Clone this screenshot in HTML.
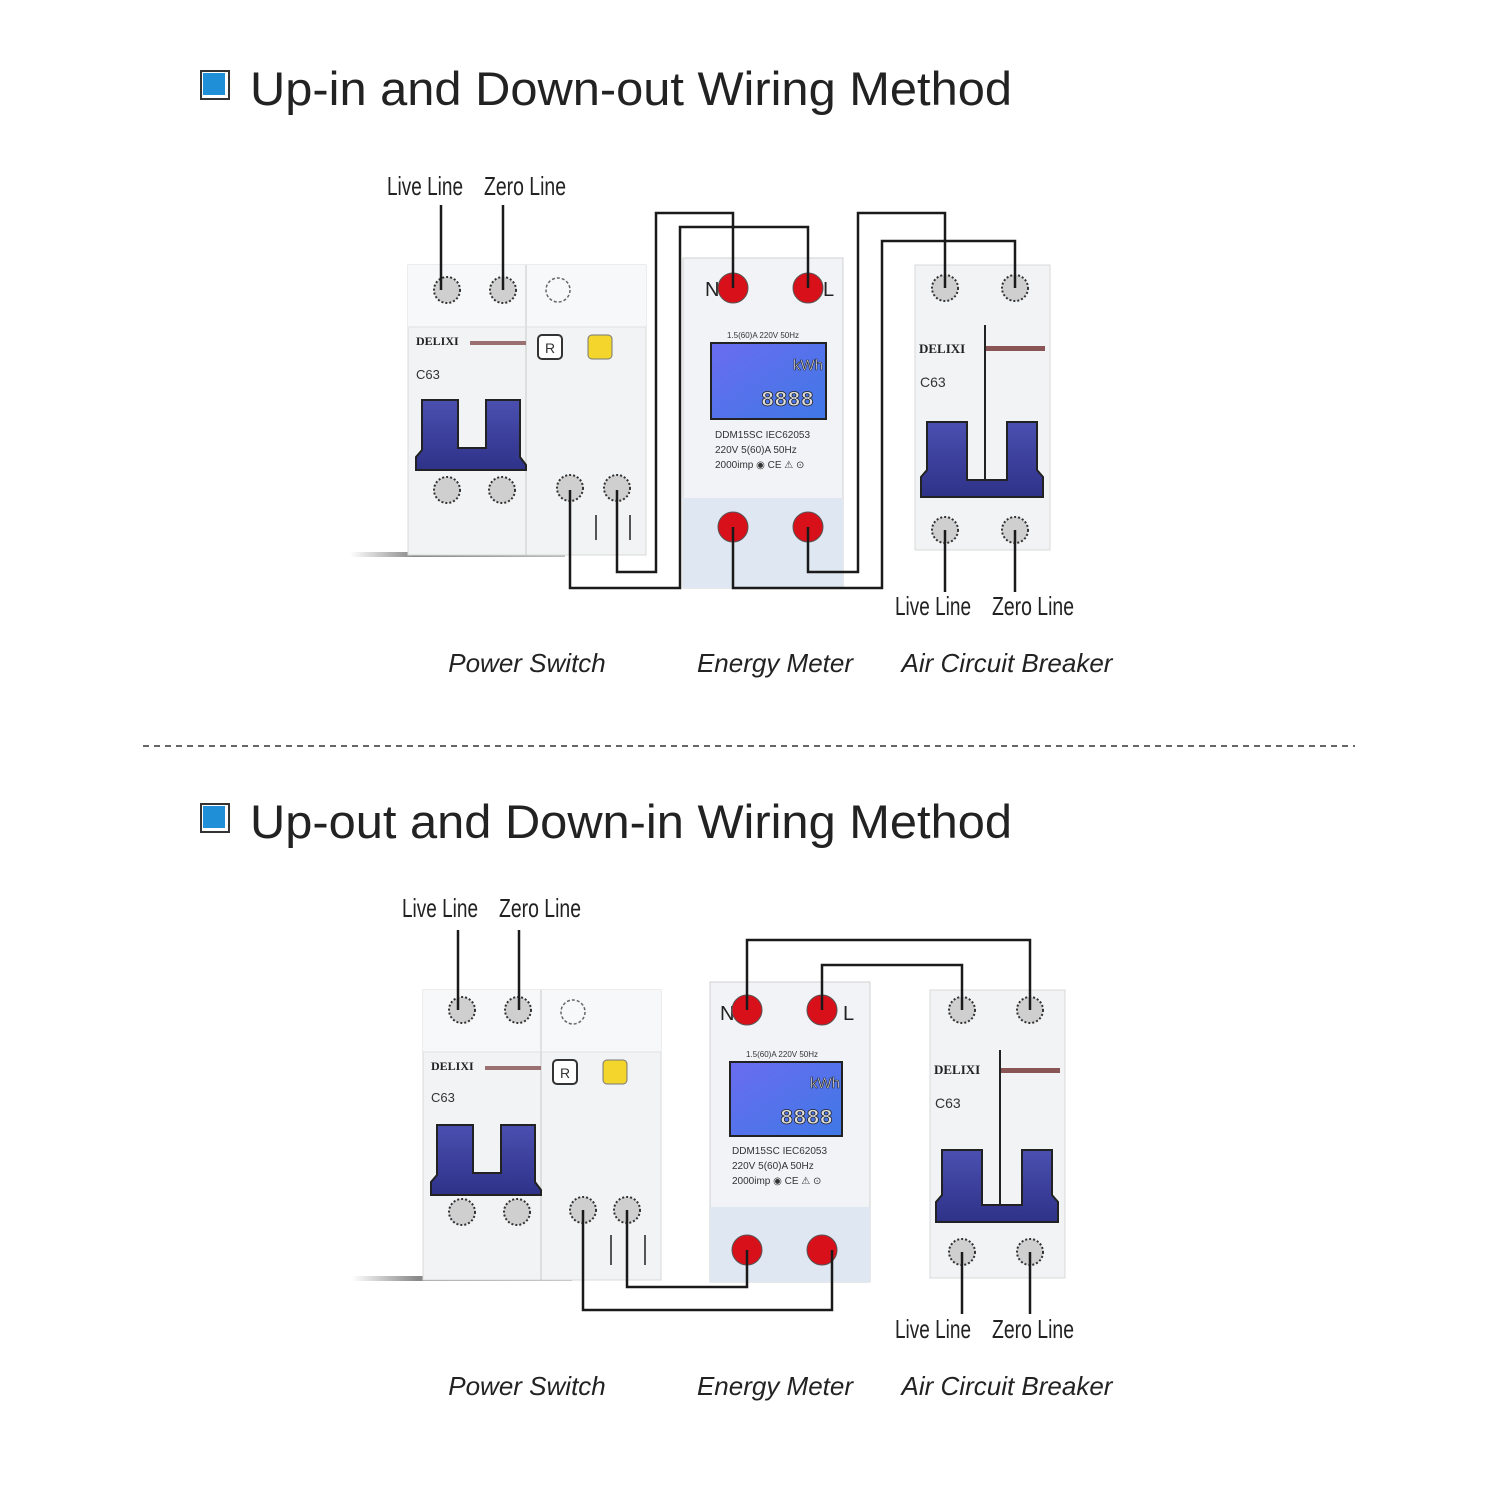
<!DOCTYPE html>
<html><head><meta charset="utf-8"><style>
html,body{margin:0;padding:0;background:#fff;}
svg{display:block}
.t{font-family:"Liberation Sans",sans-serif;}
</style></head><body>
<svg width="1500" height="1500" viewBox="0 0 1500 1500" xmlns="http://www.w3.org/2000/svg">
<defs>
<linearGradient id="lcd" x1="0" y1="0" x2="1" y2="1"><stop offset="0" stop-color="#6a6cf0"/><stop offset="1" stop-color="#3f78e6"/></linearGradient>
<linearGradient id="hb" x1="0" y1="0" x2="0" y2="1"><stop offset="0" stop-color="#4b4fb0"/><stop offset="1" stop-color="#2e3288"/></linearGradient>
<linearGradient id="sh" x1="0" y1="0" x2="1" y2="0"><stop offset="0" stop-color="#fff"/><stop offset="0.3" stop-color="#888"/><stop offset="1" stop-color="#bbb"/></linearGradient>
</defs>
<rect width="1500" height="1500" fill="#fff"/>

<!-- ===== TITLE 1 ===== -->
<rect x="201" y="71" width="28" height="28" fill="#fff" stroke="#333" stroke-width="2"/>
<rect x="203" y="73" width="22" height="22" fill="#1f8fd8"/>
<text class="t" x="250" y="105" font-size="47" fill="#222" textLength="762" lengthAdjust="spacingAndGlyphs">Up-in and Down-out Wiring Method</text>

<!-- labels top -->
<text class="t" x="425" y="195" font-size="26" fill="#222" text-anchor="middle" textLength="76" lengthAdjust="spacingAndGlyphs">Live Line</text>
<text class="t" x="525" y="195" font-size="26" fill="#222" text-anchor="middle" textLength="82" lengthAdjust="spacingAndGlyphs">Zero Line</text>

<!-- shadow -->
<rect x="350" y="552" width="215" height="5" fill="url(#sh)"/>

<!-- POWER SWITCH top -->
<g transform="translate(408,265)">
<rect x="0" y="0" width="238" height="290" fill="#f2f3f5" stroke="#d8d8d8"/>
<rect x="0" y="0" width="238" height="62" fill="#f7f8f9"/>
<line x1="118" y1="0" x2="118" y2="290" stroke="#c8c8c8"/>
<line x1="0" y1="62" x2="238" y2="62" stroke="#e0e0e0"/>
<g fill="#cfcfcf" stroke="#333" stroke-width="2" stroke-dasharray="2 2">
<circle cx="39" cy="25" r="13"/><circle cx="95" cy="25" r="13"/>
<circle cx="39" cy="225" r="13"/><circle cx="94" cy="225" r="13"/>
<circle cx="162" cy="223" r="13"/><circle cx="209" cy="223" r="13"/>
</g>
<circle cx="150" cy="25" r="12" fill="none" stroke="#666" stroke-width="1.5" stroke-dasharray="3 2"/>
<text x="8" y="80" font-family="Liberation Serif,serif" font-weight="bold" font-size="12" fill="#222">DELIXI</text>
<text class="t" x="8" y="114" font-size="13" fill="#333">C63</text>
<rect x="62" y="76" width="56" height="4" fill="#9a7070"/>
<rect x="130" y="70" width="24" height="24" rx="4" fill="#fff" stroke="#333" stroke-width="2"/>
<text class="t" x="137" y="88" font-size="14" fill="#333">R</text>
<rect x="180" y="70" width="24" height="24" rx="4" fill="#f3d52c" stroke="#777"/>
<path d="M14 135 H50 V183 H78 V135 H112 V192 L118 200 V205 H8 V192 L14 185 Z" fill="url(#hb)" stroke="#222" stroke-width="2"/>
<line x1="162" y1="225" x2="162" y2="290" stroke="#222" stroke-width="2"/>
<line x1="188" y1="250" x2="188" y2="275" stroke="#555" stroke-width="2"/>
<line x1="222" y1="250" x2="222" y2="275" stroke="#555" stroke-width="2"/>
</g>

<!-- METER top -->
<g transform="translate(683,258)">
<rect x="0" y="0" width="160" height="330" fill="#f1f3f6" stroke="#d0d0d0"/>
<text class="t" x="22" y="38" font-size="20" fill="#222">N</text>
<text class="t" x="140" y="38" font-size="20" fill="#222">L</text>
<circle cx="50" cy="30" r="15" fill="#d8101a" stroke="#555"/>
<circle cx="125" cy="30" r="15" fill="#d8101a" stroke="#555"/>
<text class="t" x="80" y="80" font-size="8" fill="#333" text-anchor="middle">1.5(60)A 220V 50Hz</text>
<rect x="28" y="85" width="115" height="76" fill="url(#lcd)" stroke="#222" stroke-width="2"/>
<text class="t" x="110" y="112" font-size="15" fill="#eee" stroke="#222" stroke-width="0.6">kWh</text>
<text x="78" y="148" font-family="Liberation Mono,monospace" font-size="22" font-weight="bold" fill="#ddd" stroke="#222" stroke-width="0.8">8888</text>
<text class="t" x="32" y="180" font-size="10" fill="#333">DDM15SC  IEC62053</text>
<text class="t" x="32" y="195" font-size="10" fill="#333">220V  5(60)A  50Hz</text>
<text class="t" x="32" y="210" font-size="10" fill="#333">2000imp ◉ CE ⚠ ⊙</text>
<rect x="0" y="240" width="160" height="90" fill="#dfe7f3"/>
<circle cx="50" cy="269" r="15" fill="#d8101a" stroke="#555"/>
<circle cx="125" cy="269" r="15" fill="#d8101a" stroke="#555"/>
</g>

<!-- BREAKER top -->
<g transform="translate(915,265)">
<rect x="0" y="0" width="135" height="285" fill="#f2f3f5" stroke="#d8d8d8"/>
<g fill="#cfcfcf" stroke="#333" stroke-width="2" stroke-dasharray="2 2">
<circle cx="30" cy="23" r="13"/><circle cx="100" cy="23" r="13"/>
<circle cx="30" cy="265" r="13"/><circle cx="100" cy="265" r="13"/>
</g>
<text x="4" y="88" font-family="Liberation Serif,serif" font-weight="bold" font-size="13" fill="#222">DELIXI</text>
<text class="t" x="5" y="122" font-size="14" fill="#333">C63</text>
<rect x="70" y="81" width="60" height="5" fill="#8a5555"/>
<line x1="70" y1="60" x2="70" y2="215" stroke="#222" stroke-width="2"/>
<path d="M12 157 H52 V215 H92 V157 H122 V205 L128 212 V232 H6 V212 L12 205 Z" fill="url(#hb)" stroke="#222" stroke-width="2"/>
</g>

<!-- WIRES top -->
<g fill="none" stroke="#1a1a1a" stroke-width="2.5">
<path d="M441 205 V290 M503 205 V290"/>
<path d="M617 490 V572 H656 V213 H733 V288"/>
<path d="M570 490 V588 H680 V227 H808 V288"/>
<path d="M808 527 V572 H858 V213 H945 V288"/>
<path d="M733 527 V588 H882 V241 H1015 V288"/>
<path d="M945 530 V592 M1015 530 V592"/>
</g>
<text class="t" x="933" y="615" font-size="26" fill="#222" text-anchor="middle" textLength="76" lengthAdjust="spacingAndGlyphs">Live Line</text>
<text class="t" x="1033" y="615" font-size="26" fill="#222" text-anchor="middle" textLength="82" lengthAdjust="spacingAndGlyphs">Zero Line</text>
<g class="t" font-size="26" font-style="italic" fill="#222" text-anchor="middle">
<text x="527" y="672">Power Switch</text>
<text x="775" y="672">Energy Meter</text>
<text x="1007" y="672">Air Circuit Breaker</text>
</g>

<line x1="143" y1="746" x2="1355" y2="746" stroke="#333" stroke-width="1.5" stroke-dasharray="6 5"/>

<!-- ===== TITLE 2 ===== -->
<rect x="201" y="804" width="28" height="28" fill="#fff" stroke="#333" stroke-width="2"/>
<rect x="203" y="806" width="22" height="22" fill="#1f8fd8"/>
<text class="t" x="250" y="838" font-size="47" fill="#222" textLength="762" lengthAdjust="spacingAndGlyphs">Up-out and Down-in Wiring Method</text>

<text class="t" x="440" y="917" font-size="26" fill="#222" text-anchor="middle" textLength="76" lengthAdjust="spacingAndGlyphs">Live Line</text>
<text class="t" x="540" y="917" font-size="26" fill="#222" text-anchor="middle" textLength="82" lengthAdjust="spacingAndGlyphs">Zero Line</text>

<rect x="352" y="1276" width="220" height="5" fill="url(#sh)"/>

<g transform="translate(423,990)">
<rect x="0" y="0" width="238" height="290" fill="#f2f3f5" stroke="#d8d8d8"/>
<rect x="0" y="0" width="238" height="62" fill="#f7f8f9"/>
<line x1="118" y1="0" x2="118" y2="290" stroke="#c8c8c8"/>
<line x1="0" y1="62" x2="238" y2="62" stroke="#e0e0e0"/>
<g fill="#cfcfcf" stroke="#333" stroke-width="2" stroke-dasharray="2 2">
<circle cx="39" cy="20" r="13"/><circle cx="95" cy="20" r="13"/>
<circle cx="39" cy="222" r="13"/><circle cx="94" cy="222" r="13"/>
<circle cx="160" cy="220" r="13"/><circle cx="204" cy="220" r="13"/>
</g>
<circle cx="150" cy="22" r="12" fill="none" stroke="#666" stroke-width="1.5" stroke-dasharray="3 2"/>
<text x="8" y="80" font-family="Liberation Serif,serif" font-weight="bold" font-size="12" fill="#222">DELIXI</text>
<text class="t" x="8" y="112" font-size="13" fill="#333">C63</text>
<rect x="62" y="76" width="56" height="4" fill="#9a7070"/>
<rect x="130" y="70" width="24" height="24" rx="4" fill="#fff" stroke="#333" stroke-width="2"/>
<text class="t" x="137" y="88" font-size="14" fill="#333">R</text>
<rect x="180" y="70" width="24" height="24" rx="4" fill="#f3d52c" stroke="#777"/>
<path d="M14 135 H50 V183 H78 V135 H112 V192 L118 200 V205 H8 V192 L14 185 Z" fill="url(#hb)" stroke="#222" stroke-width="2"/>
<line x1="188" y1="245" x2="188" y2="275" stroke="#555" stroke-width="2"/>
<line x1="222" y1="245" x2="222" y2="275" stroke="#555" stroke-width="2"/>
</g>

<g transform="translate(710,982)">
<rect x="0" y="0" width="160" height="300" fill="#f1f3f6" stroke="#d0d0d0"/>
<text class="t" x="10" y="38" font-size="20" fill="#222">N</text>
<text class="t" x="133" y="38" font-size="20" fill="#222">L</text>
<circle cx="37" cy="28" r="15" fill="#d8101a" stroke="#555"/>
<circle cx="112" cy="28" r="15" fill="#d8101a" stroke="#555"/>
<text class="t" x="72" y="75" font-size="8" fill="#333" text-anchor="middle">1.5(60)A 220V 50Hz</text>
<rect x="20" y="80" width="112" height="74" fill="url(#lcd)" stroke="#222" stroke-width="2"/>
<text class="t" x="100" y="106" font-size="15" fill="#eee" stroke="#222" stroke-width="0.6">kWh</text>
<text x="70" y="142" font-family="Liberation Mono,monospace" font-size="22" font-weight="bold" fill="#ddd" stroke="#222" stroke-width="0.8">8888</text>
<text class="t" x="22" y="172" font-size="10" fill="#333">DDM15SC  IEC62053</text>
<text class="t" x="22" y="187" font-size="10" fill="#333">220V  5(60)A  50Hz</text>
<text class="t" x="22" y="202" font-size="10" fill="#333">2000imp ◉ CE ⚠ ⊙</text>
<rect x="0" y="225" width="160" height="75" fill="#dfe7f3"/>
<circle cx="37" cy="268" r="15" fill="#d8101a" stroke="#555"/>
<circle cx="112" cy="268" r="15" fill="#d8101a" stroke="#555"/>
</g>

<g transform="translate(930,990)">
<rect x="0" y="0" width="135" height="288" fill="#f2f3f5" stroke="#d8d8d8"/>
<g fill="#cfcfcf" stroke="#333" stroke-width="2" stroke-dasharray="2 2">
<circle cx="32" cy="20" r="13"/><circle cx="100" cy="20" r="13"/>
<circle cx="32" cy="262" r="13"/><circle cx="100" cy="262" r="13"/>
</g>
<text x="4" y="84" font-family="Liberation Serif,serif" font-weight="bold" font-size="13" fill="#222">DELIXI</text>
<text class="t" x="5" y="118" font-size="14" fill="#333">C63</text>
<rect x="70" y="78" width="60" height="5" fill="#8a5555"/>
<line x1="70" y1="60" x2="70" y2="215" stroke="#222" stroke-width="2"/>
<path d="M12 160 H52 V215 H92 V160 H122 V205 L128 212 V232 H6 V212 L12 205 Z" fill="url(#hb)" stroke="#222" stroke-width="2"/>
</g>

<g fill="none" stroke="#1a1a1a" stroke-width="2.5">
<path d="M458 930 V1010 M519 930 V1010"/>
<path d="M747 1010 V940 H1030 V1010"/>
<path d="M822 1010 V965 H962 V1010"/>
<path d="M583 1210 V1310 H832 V1250"/>
<path d="M627 1210 V1287 H747 V1250"/>
<path d="M962 1252 V1314 M1030 1252 V1314"/>
</g>
<text class="t" x="933" y="1338" font-size="26" fill="#222" text-anchor="middle" textLength="76" lengthAdjust="spacingAndGlyphs">Live Line</text>
<text class="t" x="1033" y="1338" font-size="26" fill="#222" text-anchor="middle" textLength="82" lengthAdjust="spacingAndGlyphs">Zero Line</text>
<g class="t" font-size="26" font-style="italic" fill="#222" text-anchor="middle">
<text x="527" y="1395">Power Switch</text>
<text x="775" y="1395">Energy Meter</text>
<text x="1007" y="1395">Air Circuit Breaker</text>
</g>
</svg>
</body></html>
